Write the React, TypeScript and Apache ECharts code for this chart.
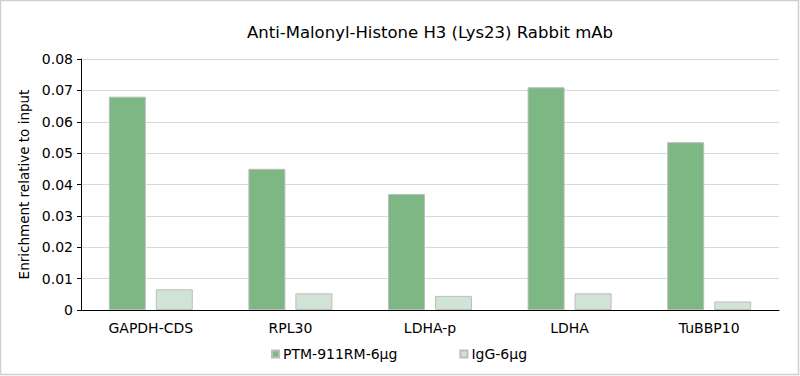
import React, { useEffect, useRef } from "react";
import * as echarts from "echarts";

const categories = ["GAPDH-CDS", "RPL30", "LDHA-p", "LDHA", "TuBBP10"];
const ptmValues = [0.068, 0.045, 0.037, 0.071, 0.0535];
const iggValues = [0.0066, 0.0053, 0.0045, 0.0053, 0.0027];
const seriesNames = ["PTM-911RM-6µg", "IgG-6µg"];
const yTicks = { min: 0, max: 0.08, interval: 0.01 };
const titleText = "Anti-Malonyl-Histone H3 (Lys23) Rabbit mAb";
const yAxisName = "Enrichment relative to input";

const FONT = "DejaVu Sans";

export default function App() {
  const ref = useRef<HTMLDivElement>(null);
  useEffect(() => {
    if (!ref.current) return;
    const chart = echarts.init(ref.current, null, { renderer: "svg" });
    chart.setOption({
      animation: false,
      backgroundColor: "#ffffff",
      textStyle: { fontFamily: FONT, color: "#000" },
      title: {
        text: titleText,
        left: 425,
        top: 19,
        textAlign: "center",
        textStyle: { fontFamily: FONT, fontSize: 16.5, fontWeight: "normal", color: "#000" },
      },
      graphic: [
        {
          type: "rect",
          shape: { x: 0.5, y: 0.5, width: 798, height: 374 },
          style: { fill: "none", stroke: "#cfcfcf", lineWidth: 1.5 },
          silent: true,
        },
      ],
      legend: {
        data: seriesNames,
        left: 266,
        top: 342,
        itemWidth: 7,
        itemHeight: 7,
        itemGap: 62,
        icon: "rect",
        textStyle: { fontFamily: FONT, fontSize: 14, color: "#000", padding: [0, 0, 0, -1] },
      },
      grid: { left: 81, right: 21, top: 59, bottom: 66, containLabel: false },
      xAxis: {
        type: "category",
        data: categories,
        axisLine: { lineStyle: { color: "#000", width: 1 } },
        axisTick: { alignWithLabel: true, length: 4, lineStyle: { color: "#000" } },
        axisLabel: { fontFamily: FONT, fontSize: 14, color: "#000", margin: 11 },
      },
      yAxis: {
        type: "value",
        min: yTicks.min,
        max: yTicks.max,
        interval: yTicks.interval,
        name: yAxisName,
        nameLocation: "middle",
        nameGap: 47,
        nameTextStyle: { fontFamily: FONT, fontSize: 13.5, color: "#000" },
        axisLine: { show: true, lineStyle: { color: "#000", width: 1 } },
        axisTick: { show: true, length: 4, lineStyle: { color: "#000" } },
        axisLabel: {
          fontFamily: FONT,
          fontSize: 14,
          color: "#000",
          margin: 8,
          formatter: (v: number) => (v === 0 ? "0" : v.toFixed(2)),
        },
        splitLine: { show: true, lineStyle: { color: "#d9d9d9", width: 1 } },
      },
      series: [
        {
          name: seriesNames[0],
          type: "bar",
          data: ptmValues,
          barWidth: 37,
          barGap: "27%",
          itemStyle: { color: "#7cb784", borderColor: "#bdbdbd", borderWidth: 1 },
        },
        {
          name: seriesNames[1],
          type: "bar",
          data: iggValues,
          barWidth: 37,
          barGap: "27%",
          itemStyle: { color: "#d0e3d5", borderColor: "#bdbdbd", borderWidth: 1 },
        },
      ],
    });
    return () => chart.dispose();
  }, []);
  return (
    <div
      ref={ref}
      style={{ position: "absolute", left: 0, top: 0, width: 800, height: 376 }}
    />
  );
}
